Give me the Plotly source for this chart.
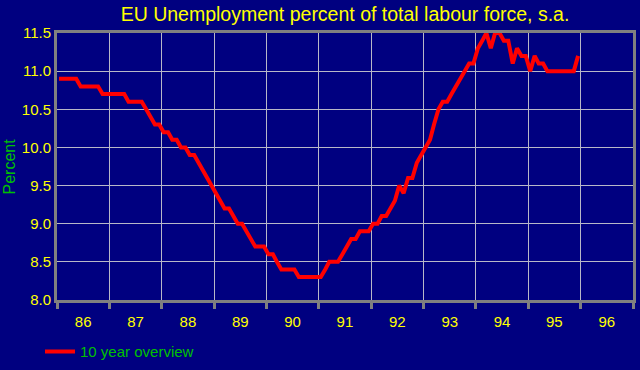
import plotly.graph_objects as go
import pandas as pd

# Monthly EU unemployment rate (% of labour force, s.a.), Jan 1986 - Dec 1995
values_1986 = [10.9, 10.9, 10.9, 10.9, 10.9, 10.8, 10.8, 10.8, 10.8, 10.8, 10.7, 10.7]
values_1987 = [10.7, 10.7, 10.7, 10.7, 10.6, 10.6, 10.6, 10.6, 10.5, 10.4, 10.3, 10.3]
values_1988 = [10.2, 10.2, 10.1, 10.1, 10.0, 10.0, 9.9, 9.9, 9.8, 9.7, 9.6, 9.5]
values_1989 = [9.4, 9.3, 9.2, 9.2, 9.1, 9.0, 9.0, 8.9, 8.8, 8.7, 8.7, 8.7]
values_1990 = [8.6, 8.6, 8.5, 8.4, 8.4, 8.4, 8.4, 8.3, 8.3, 8.3, 8.3, 8.3]
values_1991 = [8.3, 8.4, 8.5, 8.5, 8.5, 8.6, 8.7, 8.8, 8.8, 8.9, 8.9, 8.9]
values_1992 = [9.0, 9.0, 9.1, 9.1, 9.2, 9.3, 9.5, 9.4, 9.6, 9.6, 9.8, 9.9]
values_1993 = [10.0, 10.1, 10.3, 10.5, 10.6, 10.6, 10.7, 10.8, 10.9, 11.0, 11.1, 11.1]
values_1994 = [11.3, 11.4, 11.5, 11.3, 11.5, 11.5, 11.4, 11.4, 11.1, 11.3, 11.2, 11.2]
values_1995 = [11.0, 11.2, 11.1, 11.1, 11.0, 11.0, 11.0, 11.0, 11.0, 11.0, 11.0, 11.2]

values = (values_1986 + values_1987 + values_1988 + values_1989 + values_1990 +
          values_1991 + values_1992 + values_1993 + values_1994 + values_1995)
# one observation per month, plotted at mid-month
months = pd.date_range("1986-01-01", periods=len(values), freq="MS") + pd.Timedelta(days=14)

title_text = "EU Unemployment percent of total labour force, s.a."
series_name = "10 year overview"
y_title = "Percent"

NAVY = "#000080"
GRID = "#b8b8c8"
FRAME = "#808080"
YELLOW = "#ffff00"
GREEN = "#00c000"
FONT = "Liberation Sans, Arial, sans-serif"

fig = go.Figure()
fig.add_trace(go.Scatter(
    x=months, y=values, mode="lines", name=series_name,
    line=dict(color="#ff0000", width=4),
))

fig.update_layout(
    width=640, height=370,
    margin=dict(l=57, r=7, t=33, b=70, autoexpand=False),
    paper_bgcolor=NAVY, plot_bgcolor=NAVY,
    font=dict(family=FONT, color=YELLOW, size=15),
    title=dict(text=title_text, x=0.5, xref="paper", y=0.962, yanchor="middle",
               font=dict(family=FONT, size=19.5, color=YELLOW)),
    showlegend=True,
    legend=dict(orientation="h", xref="container", yref="container",
                x=0.0625, xanchor="left", y=0.049, yanchor="middle",
                font=dict(family=FONT, size=15, color=GREEN), bgcolor="rgba(0,0,0,0)"),
)

fig.update_xaxes(
    type="date", range=["1986-01-01", "1997-01-01"],
    tick0="1986-01-01", dtick="M12", tickformat="%y", ticklabelmode="period",
    showgrid=True, gridcolor=GRID, gridwidth=1,
    ticks="outside", ticklen=6, tickwidth=3, tickcolor=FRAME,
    showline=True, linecolor=FRAME, linewidth=3, mirror=True,
    tickfont=dict(family=FONT, size=15, color=YELLOW),
    zeroline=False,
)
fig.update_yaxes(
    range=[8.0, 11.5], dtick=0.5, tick0=8.0, tickformat=".1f",
    showgrid=True, gridcolor=GRID, gridwidth=1,
    ticks="", showline=True, linecolor=FRAME, linewidth=3, mirror=True,
    tickfont=dict(family=FONT, size=15, color=YELLOW),
    zeroline=False,
)

fig.add_annotation(
    text=y_title, xref="paper", yref="paper", x=0, y=0.5,
    xanchor="center", yanchor="middle",
    xshift=-48, textangle=-90, showarrow=False,
    font=dict(family=FONT, size=16, color=GREEN),
)

fig.write_html("out.html")
